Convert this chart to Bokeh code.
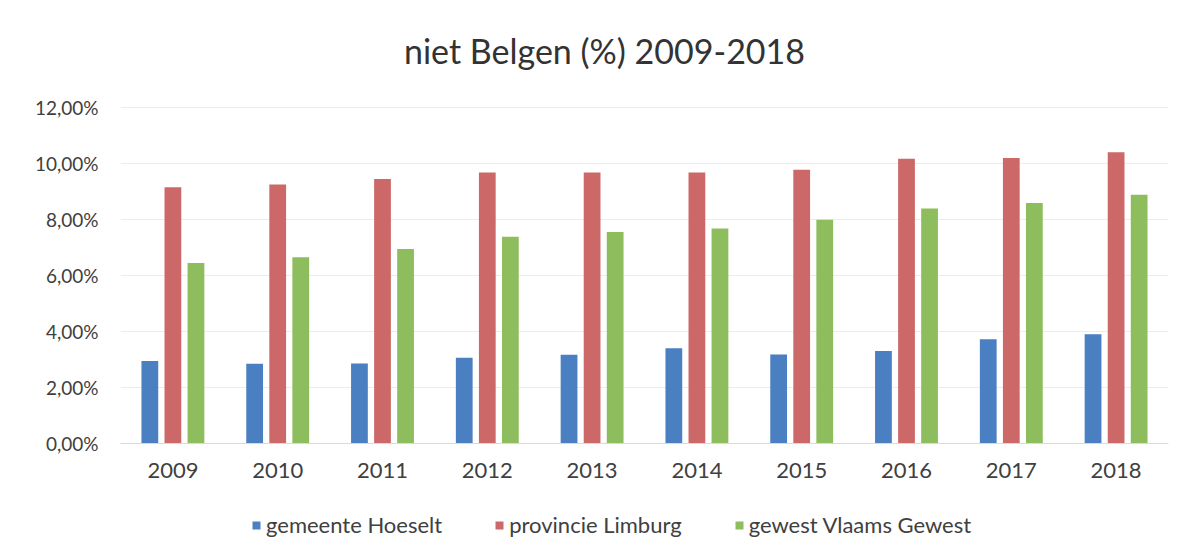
from bokeh.plotting import figure
from bokeh.models import ColumnDataSource, FactorRange, Legend, LegendItem, Label, FixedTicker
from bokeh.transform import dodge
from bokeh.embed import file_html
from bokeh.resources import INLINE

years = ["2009", "2010", "2011", "2012", "2013", "2014", "2015", "2016", "2017", "2018"]
hoeselt = [2.95, 2.85, 2.86, 3.06, 3.17, 3.40, 3.18, 3.30, 3.72, 3.90]
limburg = [9.15, 9.25, 9.45, 9.68, 9.68, 9.68, 9.78, 10.17, 10.20, 10.40]
vlaams = [6.45, 6.65, 6.95, 7.38, 7.55, 7.68, 7.99, 8.39, 8.59, 8.88]
series_names = ["gemeente Hoeselt", "provincie Limburg", "gewest Vlaams Gewest"]
y_ticks = [0, 2, 4, 6, 8, 10, 12]
y_tick_labels = ["0,00%", "2,00%", "4,00%", "6,00%", "8,00%", "10,00%", "12,00%"]
title_text = "niet Belgen (%) 2009-2018"

colors = ["#4a7fc1", "#cd6868", "#8dbd5c"]
FONT = "Lato"
TXT = "#404040"

src = ColumnDataSource(dict(year=years, h=hoeselt, l=limburg, v=vlaams))

# frame spans the whole canvas height; 28 px per percentage point
p = figure(frame_width=1048, frame_height=549, x_range=FactorRange(*years, range_padding=0),
           y_range=(-3.786, 15.821), output_backend="svg", toolbar_location=None,
           min_border_left=120, min_border_right=8, min_border_top=0, min_border_bottom=0)
p.title = None
p.outline_line_color = None
p.background_fill_color = "white"
p.border_fill_color = "white"

renderers = []
for col, off, c in zip(["h", "l", "v"], [-0.22, 0.0, 0.22], colors):
    r = p.vbar(x=dodge("year", off, range=p.x_range), top=col, width=0.16, source=src,
               fill_color=c, line_color=None)
    renderers.append(r)

# axes
yt = FixedTicker(ticks=y_ticks)
p.yaxis.ticker = yt
p.ygrid.ticker = yt
p.yaxis.major_label_overrides = {t: s for t, s in zip(y_ticks, y_tick_labels)}
p.yaxis.axis_line_color = None
p.yaxis.major_tick_line_color = None
p.yaxis.minor_tick_line_color = None
p.yaxis.major_label_standoff = 16
p.yaxis.major_label_text_font = FONT
p.yaxis.major_label_text_font_size = "19px"
p.yaxis.major_label_text_color = TXT

p.xaxis.fixed_location = 0
p.xaxis.axis_line_color = "#d9d9d9"
p.xaxis.major_tick_line_color = None
p.xaxis.minor_tick_line_color = None
p.xaxis.major_label_standoff = 14
p.xaxis.major_label_text_font = FONT
p.xaxis.major_label_text_font_size = "22px"
p.xaxis.major_label_text_color = TXT

p.xgrid.grid_line_color = None
p.ygrid.grid_line_color = "#ececec"

p.add_layout(Label(x=4.618, y=14.04, text=title_text, text_align="center", text_baseline="middle",
                   text_font=FONT, text_font_size="34px", text_color="#333333"))

legend = Legend(items=[LegendItem(label=n, renderers=[r]) for n, r in zip(series_names, renderers)],
                orientation="horizontal", location=(131, 11), border_line_color=None,
                background_fill_alpha=0, glyph_width=10, glyph_height=10, label_standoff=5,
                spacing=52, padding=0, margin=0,
                label_text_font=FONT, label_text_font_size="22px", label_text_color=TXT)
p.add_layout(legend, "center")

open("out.html", "w").write(file_html(p, INLINE))
